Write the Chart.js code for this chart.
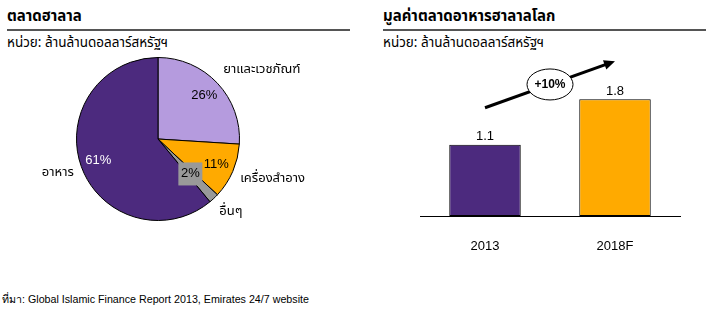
<!DOCTYPE html>
<html>
<head>
<meta charset="utf-8">
<script src="https://cdn.jsdelivr.net/npm/chart.js@4.4.1/dist/chart.umd.min.js"></script>
<style>
  body { margin: 0; width: 706px; height: 316px; background: #fff; position: relative; overflow: hidden;
         font-family: Tahoma, "Noto Sans Thai", "Noto Sans", "DejaVu Sans", sans-serif; color: #000; }
  .title { position: absolute; top: 7px; font-size: 15px; font-weight: bold; line-height: 20px; }
  .rule { position: absolute; top: 29px; height: 2px; background: #555; }
  .unit { position: absolute; top: 34px; font-size: 13.5px; line-height: 18px; }
  .src { position: absolute; left: 2px; top: 291px; font-size: 10.7px; line-height: 16px;
         font-family: "Liberation Sans", Arial, sans-serif; }
  canvas { position: absolute; }
</style>
</head>
<body>
<div class="title" style="left:7px">ตลาดฮาลาล</div>
<div class="rule" style="left:7px;width:343px"></div>
<div class="unit" style="left:7px">หน่วย: ล้านล้านดอลลาร์สหรัฐฯ</div>

<div class="title" style="left:383px">มูลค่าตลาดอาหารฮาลาลโลก</div>
<div class="rule" style="left:383px;width:323px"></div>
<div class="unit" style="left:383px">หน่วย: ล้านล้านดอลลาร์สหรัฐฯ</div>

<div class="src">ที่มา: Global Islamic Finance Report 2013, Emirates 24/7 website</div>

<div style="position:absolute;left:0;top:50px;width:353px;height:200px"><canvas id="pieChart"></canvas></div>
<div style="position:absolute;left:353px;top:40px;width:353px;height:226px"><canvas id="barChart"></canvas></div>

<script>
// --- data ---
const segments = ['ยาและเวชภัณฑ์', 'เครื่องสำอาง', 'อื่นๆ', 'อาหาร'];
const shares = [26, 11, 2, 61];

const years = ['2013', '2018F'];
const marketValues = [1.1, 1.8];
const growthLabel = '+10%';
const arrowFromTo = [1.67, 2.39]; // arrow end heights in chart units

const PURPLE = '#4C2A7E';
const LILAC = '#B59BDE';
const ORANGE = '#FFAA00';
const GREY = '#999999';
const thaiFont = 'Tahoma, "Noto Sans Thai", "Noto Sans", "DejaVu Sans", sans-serif';
const latinFont = '"Liberation Sans", Arial, sans-serif';

// pie labels: percentage inside, category name outside
const pieLabels = {
    id: 'pieLabels',
    afterDatasetsDraw(chart) {
        const ctx = chart.ctx;
        const arcs = chart.getDatasetMeta(0).data;
        ctx.save();
        arcs.forEach((arc, i) => {
            const mid = (arc.startAngle + arc.endAngle) / 2;
            const cos = Math.cos(mid), sin = Math.sin(mid);
            const r = arc.outerRadius;
            const small = shares[i] < 5;
            const f = small ? 0.58 : 0.78;
            const px = arc.x + cos * r * f, py = arc.y + sin * r * f;
            const txt = shares[i] + '%';
            ctx.font = '13px ' + latinFont;
            ctx.textAlign = 'center';
            ctx.textBaseline = 'middle';
            if (small) {
                ctx.fillStyle = GREY;
                ctx.fillRect(px - 12, py - 11, 24, 23);
            }
            ctx.fillStyle = i === 3 ? '#fff' : '#000';
            ctx.fillText(txt, px, py);

            const lx = arc.x + cos * (r + 8), ly = arc.y + sin * (r + 8) + 11 * sin;
            ctx.font = '13px ' + thaiFont;
            ctx.fillStyle = '#000';
            ctx.textAlign = cos > 0 ? 'left' : 'right';
            ctx.fillText(segments[i], lx, ly);
        });
        ctx.restore();
    }
};

new Chart(document.getElementById('pieChart'), {
    type: 'pie',
    data: {
        labels: segments,
        datasets: [{
            data: shares,
            backgroundColor: [LILAC, ORANGE, GREY, PURPLE],
            borderColor: '#000',
            borderWidth: 1
        }]
    },
    options: {
        responsive: true,
        maintainAspectRatio: false,
        animation: false,
        layout: { padding: { left: 0, right: 37, top: 7, bottom: 29 } },
        plugins: { legend: { display: false }, tooltip: { enabled: false } }
    },
    plugins: [pieLabels]
});

// bar values above the bars, plus growth arrow with ellipse
const barExtras = {
    id: 'barExtras',
    afterDatasetsDraw(chart) {
        const ctx = chart.ctx;
        const xs = chart.scales.x, ys = chart.scales.y;
        ctx.save();
        ctx.font = '13px ' + latinFont;
        ctx.fillStyle = '#000';
        ctx.textAlign = 'center';
        ctx.textBaseline = 'middle';
        chart.getDatasetMeta(0).data.forEach((bar, i) => {
            ctx.fillText(marketValues[i].toFixed(1), bar.x, bar.y - 8);
        });

        const x1 = xs.getPixelForValue(0), y1 = ys.getPixelForValue(arrowFromTo[0]);
        const x2 = xs.getPixelForValue(1), y2 = ys.getPixelForValue(arrowFromTo[1]);
        const ang = Math.atan2(y2 - y1, x2 - x1);
        ctx.strokeStyle = '#000';
        ctx.lineWidth = 3;
        ctx.beginPath();
        ctx.moveTo(x1, y1);
        ctx.lineTo(x2 - 8 * Math.cos(ang), y2 - 8 * Math.sin(ang));
        ctx.stroke();
        ctx.beginPath();
        ctx.moveTo(x2, y2);
        ctx.lineTo(x2 - 11 * Math.cos(ang) + 5 * Math.sin(ang), y2 - 11 * Math.sin(ang) - 5 * Math.cos(ang));
        ctx.lineTo(x2 - 11 * Math.cos(ang) - 5 * Math.sin(ang), y2 - 11 * Math.sin(ang) + 5 * Math.cos(ang));
        ctx.closePath();
        ctx.fillStyle = '#000';
        ctx.fill();

        const cx = (x1 + x2) / 2, cy = (y1 + y2) / 2;
        ctx.beginPath();
        ctx.ellipse(cx, cy, 23, 15.5, 0, 0, Math.PI * 2);
        ctx.fillStyle = '#fff';
        ctx.fill();
        ctx.lineWidth = 1;
        ctx.stroke();
        ctx.fillStyle = '#000';
        ctx.font = 'bold 12px ' + latinFont;
        ctx.fillText(growthLabel, cx, cy);
        ctx.restore();
    }
};

new Chart(document.getElementById('barChart'), {
    type: 'bar',
    data: {
        labels: years,
        datasets: [{
            data: marketValues,
            backgroundColor: [PURPLE, ORANGE],
            borderColor: '#000',
            borderWidth: 1,
            borderSkipped: false,
            categoryPercentage: 1,
            barPercentage: 0.55
        }]
    },
    options: {
        responsive: true,
        maintainAspectRatio: false,
        animation: false,
        layout: { padding: { left: 67, right: 26, top: 14, bottom: 0 } },
        plugins: { legend: { display: false }, tooltip: { enabled: false } },
        scales: {
            x: {
                grid: { display: false },
                border: { display: true, color: '#000', width: 1 },
                ticks: { color: '#000', padding: 15, font: { family: latinFont, size: 13 } },
                afterFit(scale) { scale.height = 50; }
            },
            y: { display: false, min: 0, max: 2.5 }
        }
    },
    plugins: [barExtras]
});
</script>
</body>
</html>
